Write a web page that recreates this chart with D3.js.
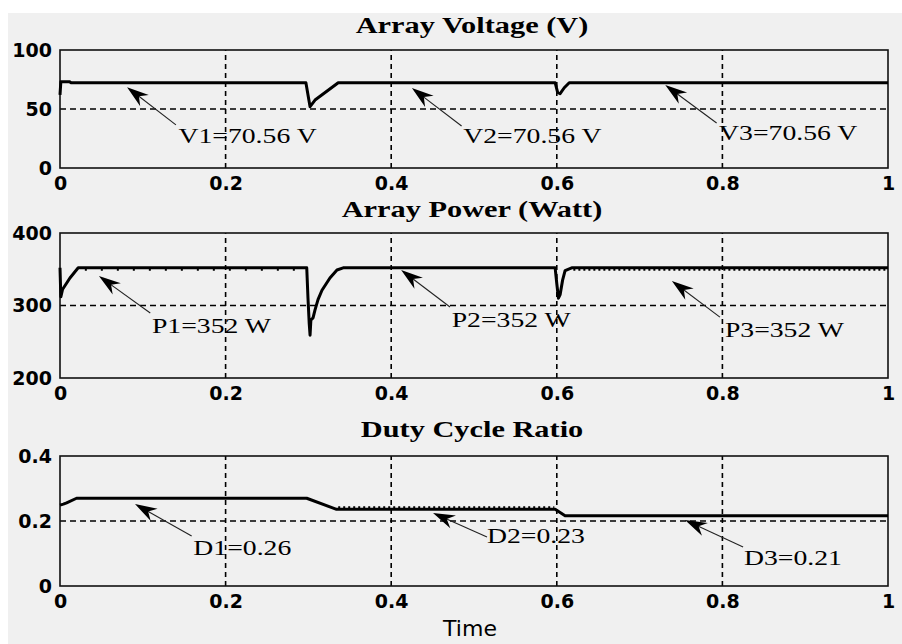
<!DOCTYPE html>
<html>
<head>
<meta charset="utf-8">
<script src="https://cdnjs.cloudflare.com/ajax/libs/d3/7.8.5/d3.min.js"></script>
<style>
  body { margin: 0; background: #fff; }
</style>
</head>
<body>
<script>
// time axis shared by the three traces
const timeTicks = [0, 0.2, 0.4, 0.6, 0.8, 1];

// array voltage trace (V)
const voltTime  = [0, 0.001, 0.012, 0.013, 0.297, 0.300, 0.302, 0.308, 0.336, 0.598, 0.601, 0.604, 0.609, 0.615, 1];
const voltValue = [62, 73, 73, 72.3, 72.3, 60, 52, 57.6, 72.3, 72.3, 64, 63, 68, 72.3, 72.3];
const voltTicks = [0, 50, 100];
const voltNotes = [
  { text: "V1=70.56 V", tip: [0.081, 68.5], tail: [0.140, 36.5], label: [0.143, 21] },
  { text: "V2=70.56 V", tip: [0.425, 67.8], tail: [0.485, 35.6], label: [0.487, 21] },
  { text: "V3=70.56 V", tip: [0.731, 70.3], tail: [0.793, 38.1], label: [0.796, 23.7] }
];

// array power trace (W)
const powerTime  = [0, 0.001, 0.003, 0.012, 0.022, 0.298, 0.2995, 0.301, 0.302, 0.303, 0.3056, 0.308, 0.3116, 0.3164, 0.326, 0.3345, 0.342,
                    0.598, 0.600, 0.602, 0.604, 0.607, 0.610, 0.618, 1];
const powerValue = [352, 312, 322, 338, 352, 352, 310, 275, 259, 280, 283, 294, 308, 321, 338, 349, 352,
                    352, 330, 310, 315, 335, 348, 352, 352];
const powerTicks = [200, 300, 400];
const powerNotes = [
  { text: "P1=352 W", tip: [0.047, 340.7], tail: [0.109, 289.7], label: [0.111, 262] },
  { text: "P2=352 W", tip: [0.412, 349], tail: [0.471, 298], label: [0.473, 270.3] },
  { text: "P3=352 W", tip: [0.739, 333.8], tail: [0.797, 284], label: [0.803, 256.6] }
];

// duty cycle trace
const dutyTime  = [0, 0.004, 0.008, 0.02, 0.298, 0.334, 0.598, 0.61, 1];
const dutyValue = [0.249, 0.252, 0.256, 0.27, 0.27, 0.236, 0.236, 0.216, 0.216];
const dutyTicks = [0, 0.2, 0.4];
const dutyNotes = [
  { text: "D1=0.26", tip: [0.0906, 0.252], tail: [0.159, 0.154], label: [0.161, 0.0954] },
  { text: "D2=0.23", tip: [0.4505, 0.2246], tail: [0.5157, 0.151], label: [0.5157, 0.132] },
  { text: "D3=0.21", tip: [0.7548, 0.203], tail: [0.825, 0.12], label: [0.826, 0.0646] }
];

// switching ripple stretches seen on the flat parts
const powerRipple = [{ from: 0.03, to: 0.296, value: 352, side: 1, dash: "2,14" },
                     { from: 0.62, to: 1, value: 352, side: 1, dash: "2,3" }];
const dutyRipple  = [{ from: 0.336, to: 0.597, value: 0.236, side: -1, dash: "2,3" }];

const width = 902, height = 644;
const serif = "'Liberation Serif', 'Times New Roman', serif";
const stretch = 1.32;

const svg = d3.select("body").append("svg")
    .attr("width", width)
    .attr("height", height);

svg.append("rect")
    .attr("x", 8).attr("y", 13)
    .attr("width", width - 8).attr("height", height - 13)
    .attr("fill", "#f0f0f0");

const x = d3.scaleLinear().domain([0, 1]).range([60, 888]);

const panels = [
  { title: "Array Voltage (V)", top: 50, bottom: 168, titleY: 33, ticks: voltTicks,
    time: voltTime, values: voltValue, notes: voltNotes, ripple: [] },
  { title: "Array Power (Watt)", top: 233, bottom: 378, titleY: 217, ticks: powerTicks,
    time: powerTime, values: powerValue, notes: powerNotes, ripple: powerRipple },
  { title: "Duty Cycle Ratio", top: 456, bottom: 586, titleY: 437, ticks: dutyTicks,
    time: dutyTime, values: dutyValue, notes: dutyNotes, ripple: dutyRipple }
];

panels.forEach(function(p) {
  const y = d3.scaleLinear()
      .domain([p.ticks[0], p.ticks[p.ticks.length - 1]])
      .range([p.bottom, p.top]);
  const g = svg.append("g");

  // dashed grid
  g.selectAll("line.vgrid").data(timeTicks.slice(1, -1)).join("line")
      .attr("x1", d => x(d)).attr("x2", d => x(d))
      .attr("y1", y.range()[0]).attr("y2", y.range()[1])
      .attr("stroke", "#000").attr("stroke-width", 1.6)
      .attr("stroke-dasharray", "5,4");
  g.selectAll("line.hgrid").data(p.ticks.slice(1, -1)).join("line")
      .attr("x1", x(0)).attr("x2", x(1))
      .attr("y1", d => y(d)).attr("y2", d => y(d))
      .attr("stroke", "#000").attr("stroke-width", 1.4)
      .attr("stroke-dasharray", "6,4");

  // frame
  g.append("rect")
      .attr("x", x(0)).attr("y", y.range()[1])
      .attr("width", x(1) - x(0)).attr("height", y.range()[0] - y.range()[1])
      .attr("fill", "none").attr("stroke", "#111").attr("stroke-width", 1.6);

  // axes
  const yAxis = g.append("g")
      .attr("transform", "translate(" + x(0) + ",0)")
      .call(d3.axisLeft(y).tickValues(p.ticks).tickSize(0).tickPadding(8).tickFormat(d => String(d)));
  const xAxis = g.append("g")
      .attr("transform", "translate(0," + p.bottom + ")")
      .call(d3.axisBottom(x).tickValues(timeTicks).tickSize(0).tickPadding(9).tickFormat(d => String(d)));
  [yAxis, xAxis].forEach(function(a) {
    a.select(".domain").remove();
    a.attr("font-family", "'DejaVu Sans', sans-serif")
     .attr("font-weight", "bold")
     .attr("font-size", 19);
    a.selectAll("text").attr("fill", "#000");
  });

  // title
  g.append("text")
      .attr("transform", "translate(" + ((x(0) + x(1)) / 2 - 2) + "," + p.titleY + ") scale(" + stretch + ",1)")
      .attr("text-anchor", "middle")
      .attr("font-family", serif).attr("font-weight", "bold").attr("font-size", 23)
      .attr("fill", "#000")
      .text(p.title);

  // trace
  const line = d3.line()
      .x((d, i) => x(p.time[i]))
      .y(d => y(d));
  g.append("path")
      .attr("d", line(p.values))
      .attr("fill", "none")
      .attr("stroke", "#000")
      .attr("stroke-width", 3)
      .attr("stroke-linejoin", "round");

  // ripple ticks along the flat parts
  g.selectAll("line.ripple").data(p.ripple).join("line")
      .attr("x1", d => x(d.from)).attr("x2", d => x(d.to))
      .attr("y1", d => y(d.value) + d.side * 2).attr("y2", d => y(d.value) + d.side * 2)
      .attr("stroke", "#000").attr("stroke-width", 2)
      .attr("stroke-dasharray", d => d.dash);

  // annotations: thin shaft, dart head and label
  p.notes.forEach(function(n) {
    const tx = x(n.tip[0]), ty = y(n.tip[1]);
    const sx = x(n.tail[0]), sy = y(n.tail[1]);
    const ang = Math.atan2(sy - ty, sx - tx);
    const len = 22, half = 7, notch = 15;
    const ca = Math.cos(ang), sa = Math.sin(ang);
    const pt = (a, b) => [tx + a * ca - b * sa, ty + a * sa + b * ca];
    g.append("line")
        .attr("x1", sx).attr("y1", sy)
        .attr("x2", tx + 10 * ca).attr("y2", ty + 10 * sa)
        .attr("stroke", "#222").attr("stroke-width", 1.1);
    g.append("path")
        .attr("d", "M" + [pt(0, 0), pt(len, half), pt(notch, 0), pt(len, -half)].map(q => q.join(",")).join("L") + "Z")
        .attr("fill", "#000");
    g.append("text")
        .attr("transform", "translate(" + x(n.label[0]) + "," + y(n.label[1]) + ") scale(" + stretch + ",1)")
        .attr("font-family", serif).attr("font-size", 21)
        .attr("fill", "#000")
        .text(n.text);
  });
});

// shared x label
svg.append("text")
    .attr("x", 470).attr("y", 636)
    .attr("text-anchor", "middle")
    .attr("font-family", "'DejaVu Sans', sans-serif")
    .attr("font-size", 22)
    .attr("fill", "#000")
    .text("Time");
</script>
</body>
</html>
